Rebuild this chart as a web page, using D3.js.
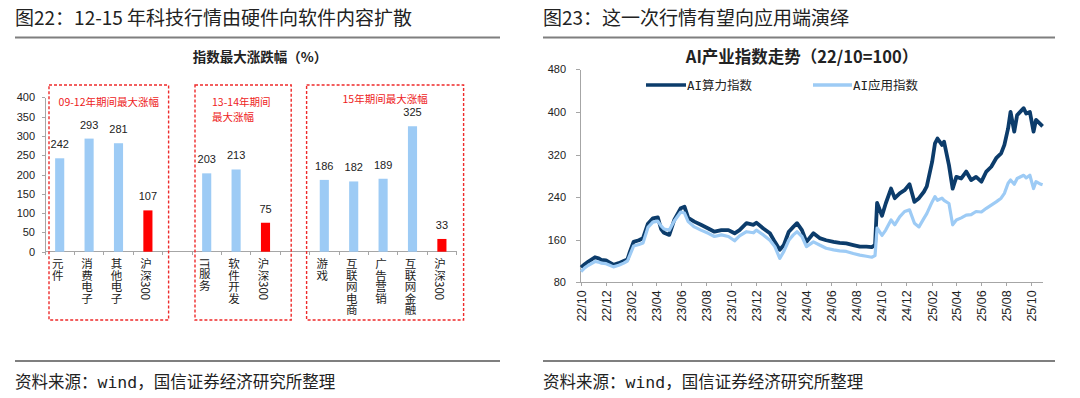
<!DOCTYPE html>
<html>
<meta http-equiv="content-type" content="text/html; charset=utf-8" />
<head>
  <title>科技行情</title>
</head>
<style>
body { margin: 0; background: #fff; }
svg text { fill: #222; }
.head { font: 19px "Noto Sans CJK SC", sans-serif; }
.foot { font: 16.5px "DejaVu Sans Mono", "Noto Sans CJK SC", sans-serif; }
.ctitle { font: bold 13.5px "Noto Sans CJK SC", sans-serif; }
.tick text { font: 11px "Liberation Sans", "Noto Sans CJK SC", sans-serif; }
.axis path, .axis line { stroke: #a6a6a6; fill: none; shape-rendering: crispEdges; }
.cat { font: 11.5px "Noto Sans CJK SC", sans-serif; writing-mode: vertical-rl; text-orientation: mixed; }
.val { font: 11px "Liberation Sans", sans-serif; }
.boxlab { font: 10.5px "Noto Sans CJK SC", sans-serif; fill: #ee1c1c !important; }
.leg { font: 12.5px "DejaVu Sans Mono", "Noto Sans CJK SC", sans-serif; }
</style>
<body>
<svg id="chart" width="1080" height="398"></svg>
<script src="https://d3js.org/d3.v7.min.js"></script>
<script type="text/javascript">
// ---- left chart data ----
var group1Cats = ["元件", "消费电子", "其他电子", "沪深300"];
var group1Vals = [242, 293, 281, 107];
var group2Cats = ["IT服务", "软件开发", "沪深300"];
var group2Vals = [203, 213, 75];
var group3Cats = ["游戏", "互联网电商", "广告营销", "互联网金融", "沪深300"];
var group3Vals = [186, 182, 189, 325, 33];
var groupLabels = [["09-12年期间最大涨幅"], ["13-14年期间", "最大涨幅"], ["15年期间最大涨幅"]];
var barTicks = [0, 50, 100, 150, 200, 250, 300, 350, 400];

// ---- right chart data ----
var lineDates = [
  "2022-10-01","2022-10-10","2022-10-19","2022-11-04","2022-11-13","2022-11-19","2022-12-01","2022-12-10","2022-12-19",
  "2023-01-01","2023-01-13","2023-01-22","2023-01-28","2023-02-06","2023-02-19","2023-03-01","2023-03-13","2023-03-25",
  "2023-04-06","2023-04-14","2023-04-21","2023-05-04","2023-05-16","2023-06-01","2023-06-10","2023-06-19","2023-07-04",
  "2023-07-20","2023-08-07","2023-08-22","2023-09-08","2023-09-25","2023-10-10","2023-10-22","2023-11-08","2023-11-25",
  "2023-12-02","2023-12-19","2024-01-04","2024-01-16","2024-01-28","2024-02-07","2024-02-19","2024-03-01","2024-03-10",
  "2024-03-22","2024-04-02","2024-04-19","2024-05-04","2024-05-20","2024-06-07","2024-06-22","2024-07-08","2024-07-25",
  "2024-08-10","2024-08-26","2024-09-08","2024-09-16","2024-09-21","2024-10-03","2024-10-12","2024-10-25","2024-11-03",
  "2024-11-15","2024-11-27","2024-12-09","2024-12-21","2025-01-01","2025-01-13","2025-01-20","2025-02-02","2025-02-09",
  "2025-02-15","2025-02-26","2025-03-03","2025-03-15","2025-03-24","2025-04-02","2025-04-14","2025-04-26","2025-05-08",
  "2025-05-20","2025-06-02","2025-06-14","2025-06-26","2025-07-08","2025-07-20","2025-07-28","2025-08-06","2025-08-12",
  "2025-08-21","2025-08-28","2025-09-13","2025-09-19","2025-09-28","2025-10-07","2025-10-13","2025-10-25","2025-10-29"
];
var computeIndex = [
  108, 114, 119, 127, 125, 122, 121, 117, 113,
  116, 120, 123, 137, 156, 159, 163, 190, 200,
  202, 180, 173, 169, 197, 219, 222, 201, 194,
  188, 181, 175, 178, 178, 172, 178, 191, 188,
  192, 181, 172, 156, 141, 150, 175, 184, 191,
  178, 156, 172, 163, 159, 156, 154, 153, 150,
  147, 147, 146, 150, 229, 205, 228, 256, 238,
  247, 253, 264, 231, 238, 250, 260, 306, 341,
  350, 338, 344, 300, 256, 278, 275, 288, 272,
  278, 269, 288, 297, 313, 322, 338, 369, 400,
  363, 394, 407, 397, 400, 363, 385, 376, 373
];
var appIndex = [
  100, 107, 112, 119, 118, 116, 115, 112, 109,
  112, 116, 120, 131, 148, 151, 154, 183, 193,
  195, 186, 180, 178, 195, 212, 210, 194, 184,
  178, 172, 166, 169, 166, 158, 167, 175, 173,
  178, 169, 159, 147, 125, 138, 159, 169, 175,
  166, 147, 156, 150, 144, 141, 139, 138, 134,
  131, 129, 127, 130, 182, 168, 178, 197, 188,
  203, 213, 216, 191, 184, 200, 209, 231, 241,
  234, 238, 234, 228, 188, 197, 201, 206, 207,
  213, 212, 219, 225, 231, 238, 247, 266, 272,
  264, 275, 281, 276, 281, 256, 269, 264, 263
];
var lineNames = ["AI算力指数", "AI应用指数"];
var lineTicks = [80, 160, 240, 320, 400, 480];

var svg = d3.select("#chart");
var parse = d3.timeParse("%Y-%m-%d");

// headings, rules and footers
[[15, 500, "图22：12-15 年科技行情由硬件向软件内容扩散"], [543, 1055, "图23：这一次行情有望向应用端演绎"]].forEach(function(h) {
  svg.append("text").attr("class", "head").attr("x", h[0]).attr("y", 25).text(h[2]);
  svg.append("line").attr("x1", h[0]).attr("x2", h[1]).attr("y1", 37.5).attr("y2", 37.5)
    .attr("stroke", "#7f7f7f").attr("stroke-width", 2);
  svg.append("line").attr("x1", h[0]).attr("x2", h[1]).attr("y1", 361).attr("y2", 361)
    .attr("stroke", "#7f7f7f").attr("stroke-width", 2);
  svg.append("text").attr("class", "foot").attr("x", h[0]).attr("y", 388).text("资料来源：wind，国信证券经济研究所整理");
});

// ---------- left: bar chart ----------
var slots = [];
[[group1Cats, group1Vals], [group2Cats, group2Vals], [group3Cats, group3Vals]].forEach(function(g, gi) {
  if (gi > 0) slots.push({ name: "", value: null, group: -1 });
  g[0].forEach(function(c, i) { slots.push({ name: c, value: g[1][i], group: gi }); });
});
slots.forEach(function(d, i) { d.idx = i; });

var bx = d3.scaleBand().domain(d3.range(slots.length)).range([45, 456.6]).padding(0);
var by = d3.scaleLinear().domain([0, 400]).range([251.7, 97.3]);
var barW = bx.bandwidth() * 0.31;

svg.append("text").attr("class", "ctitle").attr("x", 260).attr("y", 62)
  .attr("text-anchor", "middle").text("指数最大涨跌幅（%）");

svg.append("g").attr("class", "axis").attr("transform", "translate(45,0)")
  .call(d3.axisLeft(by).tickValues(barTicks).tickSize(3).tickSizeOuter(0).tickPadding(7));

var xa = svg.append("g").attr("class", "axis");
xa.append("line").attr("x1", 45).attr("x2", 456.6).attr("y1", by(0)).attr("y2", by(0));
xa.selectAll(".xt").data(d3.range(slots.length + 1)).enter().append("line")
  .attr("x1", function(i) { return 45 + i * bx.step(); })
  .attr("x2", function(i) { return 45 + i * bx.step(); })
  .attr("y1", by(0)).attr("y2", by(0) + 3);

var real = slots.filter(function(d) { return d.value !== null; });
svg.selectAll(".bar").data(real).enter().append("rect")
  .attr("x", function(d) { return bx(d.idx) + bx.bandwidth() / 2 - barW / 2; })
  .attr("y", function(d) { return by(d.value); })
  .attr("width", barW)
  .attr("height", function(d) { return by(0) - by(d.value); })
  .attr("fill", function(d) { return d.name === "沪深300" ? "#ff0000" : "#9dcbf5"; });

svg.selectAll(".val").data(real).enter().append("text").attr("class", "val")
  .attr("x", function(d) { return bx(d.idx) + bx.bandwidth() / 2; })
  .attr("y", function(d) { return by(d.value) - 10; })
  .attr("text-anchor", "middle")
  .text(function(d) { return d.value; });

svg.selectAll(".cat").data(real).enter().append("text").attr("class", "cat")
  .attr("x", function(d) { return bx(d.idx) + bx.bandwidth() / 2 - 2; })
  .attr("y", 258)
  .text(function(d) { return d.name; });

// dashed group boxes
var boxPad = [[4, 6], [3, 11], [-3, 7]];
[0, 1, 2].forEach(function(g) {
  var members = slots.filter(function(d) { return d.group === g; });
  var x0 = bx(members[0].idx) + boxPad[g][0];
  var x1 = bx(members[members.length - 1].idx) + bx.step() + boxPad[g][1];
  svg.append("rect").attr("x", x0).attr("y", 85).attr("width", x1 - x0).attr("height", 235)
    .attr("fill", "none").attr("stroke", "#ee2a2a").attr("stroke-width", 1.4)
    .attr("stroke-dasharray", "3,2");
  var lab = svg.append("text").attr("class", "boxlab");
  if (g === 1) {
    lab.attr("x", x0 + 17).attr("y", 106);
    groupLabels[g].forEach(function(t, k) {
      lab.append("tspan").attr("x", x0 + 17).attr("dy", k ? 14.5 : 0).text(t);
    });
  } else {
    lab.attr("x", (x0 + x1) / 2).attr("y", g === 0 ? 106 : 103).attr("text-anchor", "middle").text(groupLabels[g][0]);
  }
});

// ---------- right: line chart ----------
var dates = lineDates.map(parse);
var lx = d3.scaleTime().domain([parse("2022-10-01"), parse("2025-10-30")]).range([581, 1043]);
var ly = d3.scaleLinear().domain([80, 480]).range([282.3, 69.3]);

svg.append("text").attr("class", "ctitle").attr("x", 802).attr("y", 63)
  .style("font-size", "16.5px").attr("text-anchor", "middle").text("AI产业指数走势（22/10=100）");

svg.append("g").attr("class", "axis").attr("transform", "translate(580,0)")
  .call(d3.axisLeft(ly).tickValues(lineTicks).tickSize(4).tickSizeOuter(0).tickPadding(10));

var monthTicks = d3.timeMonth.range(parse("2022-10-01"), parse("2025-10-02"), 2);
var gx = svg.append("g").attr("class", "axis").attr("transform", "translate(0," + ly(80) + ")")
  .call(d3.axisBottom(lx).tickValues(monthTicks).tickFormat(d3.timeFormat("%y/%m")).tickSize(4).tickSizeOuter(0).tickPadding(6));
gx.select(".domain").attr("d", "M580,0H1043");
gx.selectAll(".tick text").style("font-size", "12.5px")
  .attr("transform", "rotate(-90)").attr("text-anchor", "end")
  .attr("x", -8).attr("y", 0).attr("dy", "0.35em");

var colors = ["#0c3c6b", "#9dcbf5"];
[computeIndex, appIndex].forEach(function(vals, k) {
  svg.append("path")
    .datum(vals.map(function(v, i) { return [dates[i], v]; }))
    .attr("fill", "none").attr("stroke", colors[k]).attr("stroke-width", k ? 3.2 : 3.8)
    .attr("stroke-linejoin", "round")
    .attr("d", d3.line().x(function(d) { return lx(d[0]); }).y(function(d) { return ly(d[1]); }));
});

// legend
[[646, 687], [813, 853]].forEach(function(p, k) {
  svg.append("line").attr("x1", p[0]).attr("x2", p[1] - 1).attr("y1", 85).attr("y2", 85)
    .attr("stroke", colors[k]).attr("stroke-width", 3.4);
  svg.append("text").attr("class", "leg").attr("x", p[1]).attr("y", 89.5).text(lineNames[k]);
});
</script>
</body>
</html>
